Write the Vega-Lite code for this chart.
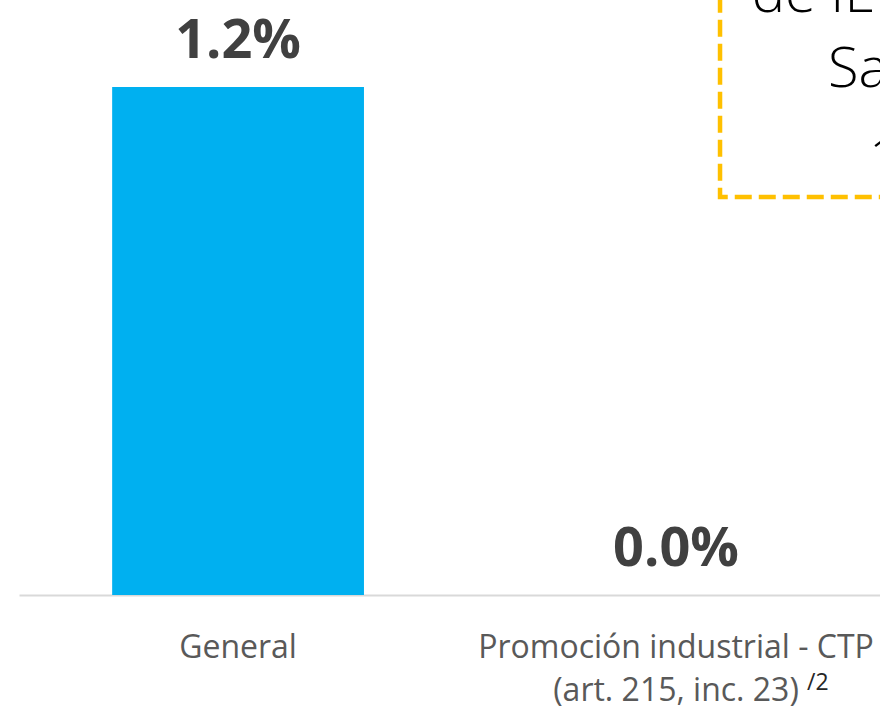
{
  "$schema": "https://vega.github.io/schema/vega-lite/v6.json",
  "autosize": {"type": "none"},
  "padding": {"left": 19, "top": 0, "right": 0, "bottom": 112},
  "width": 861,
  "height": 595,
  "background": "white",
  "config": {"view": {"stroke": null}, "font": "Open Sans"},
  "resolve": {"scale": {"x": "independent"}},
  "layer": [
    {
      "data": {"values": [
        {"cat": "General", "v": 1.2, "label": "1.2%", "sup": ""},
        {"cat": "Promoción industrial - CTP\n(art. 215, inc. 23)", "v": 0.0, "label": "0.0%", "sup": "/2"}
      ]},
      "encoding": {
        "x": {"field": "cat", "type": "nominal", "sort": null,
          "scale": {"paddingInner": 0.425, "paddingOuter": 0.1955, "align": 0.544},
          "axis": {"title": null, "labelAngle": 0, "ticks": false, "domainColor": "#d9d9d9", "domainWidth": 2,
            "labelFont": "Open Sans", "labelFontSize": 32, "labelColor": "#595959",
            "labelBaseline": "alphabetic", "labelPadding": 62, "labelLineHeight": 43,
            "labelExpr": "split(datum.label, '\\n')", "labelLimit": 0}},
        "y": {"field": "v", "type": "quantitative", "scale": {"domain": [0, 1.4056], "nice": false, "zero": true}, "axis": null}
      },
      "layer": [
        {"mark": {"type": "bar", "color": "#00B0F0"}},
        {"mark": {"type": "text", "font": "Open Sans", "fontWeight": "bold", "fontSize": 54, "color": "#404040", "baseline": "alphabetic", "dy": -29},
         "encoding": {"text": {"field": "label"}}},
        {"mark": {"type": "text", "font": "Open Sans", "fontSize": 23, "color": "#262626", "align": "left", "baseline": "alphabetic", "dx": 131, "dy": 95},
         "encoding": {"y": {"datum": 0}, "text": {"field": "sup"}}}
      ]
    },
    {
      "layer": [
        {
          "data": {"values": [{"bx": 0.8142, "bx2": 1.2, "by": 0.94, "by2": 1.6}]},
          "mark": {"type": "rect", "clip": true, "fillOpacity": 0, "stroke": "#FFC000", "strokeWidth": 4.5, "strokeDash": [17, 7]},
          "encoding": {
            "x": {"field": "bx", "type": "quantitative", "scale": {"domain": [0, 1], "nice": false, "zero": false}, "axis": null},
            "x2": {"field": "bx2"},
            "y": {"field": "by", "type": "quantitative", "scale": {"domain": [0, 1.4056], "nice": false}, "axis": null},
            "y2": {"field": "by2"}
          }
        },
        {
          "data": {"values": [
            {"tx": 0.851, "ty": 1.377, "t": "de IED"},
            {"tx": 0.9396, "ty": 1.2, "t": "Salud"},
            {"tx": 0.9873, "ty": 0.987, "t": "1.0%"}
          ]},
          "mark": {"type": "text", "clip": true, "font": "Open Sans", "fontWeight": 300, "fontSize": 56, "color": "#000000", "align": "left", "baseline": "alphabetic"},
          "encoding": {
            "x": {"field": "tx", "type": "quantitative", "scale": {"domain": [0, 1], "nice": false, "zero": false}, "axis": null},
            "y": {"field": "ty", "type": "quantitative", "scale": {"domain": [0, 1.4056], "nice": false}, "axis": null},
            "text": {"field": "t"}
          }
        }
      ]
    }
  ]
}
